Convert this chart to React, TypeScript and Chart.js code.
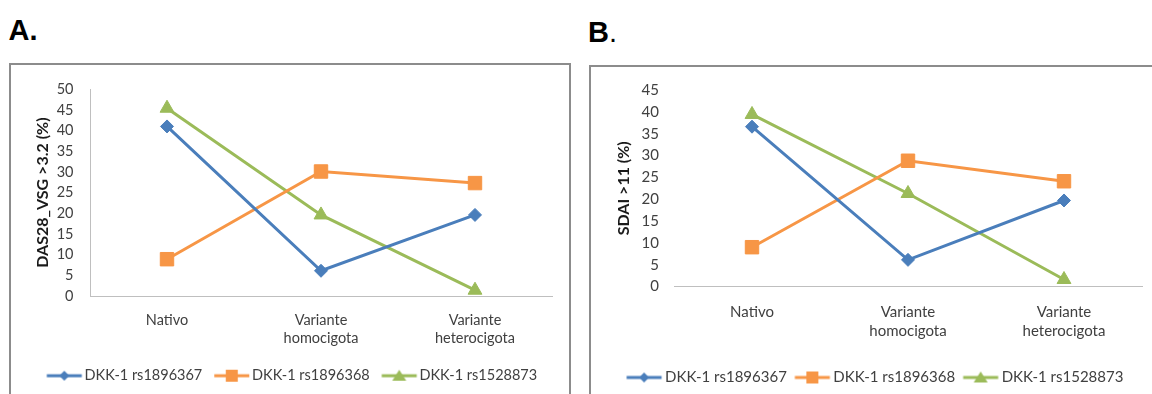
import React, { useEffect, useRef } from 'react';
import { Chart, registerables } from 'chart.js';

Chart.register(...registerables);

// ---------- data ----------
const categories: string[][] = [['Nativo'], ['Variante', 'homocigota'], ['Variante', 'heterocigota']];
const seriesNames = ['DKK-1 rs1896367', 'DKK-1 rs1896368', 'DKK-1 rs1528873'];

// Panel A: DAS28_VSG >3.2 (%)
const das28Rs1896367 = [41.0, 6.1, 19.6];
const das28Rs1896368 = [8.9, 30.1, 27.3];
const das28Rs1528873 = [45.4, 19.6, 1.4];
const das28Ticks = [0, 5, 10, 15, 20, 25, 30, 35, 40, 45, 50];

// Panel B: SDAI >11 (%)
const sdaiRs1896367 = [36.6, 6.1, 19.7];
const sdaiRs1896368 = [9.0, 28.8, 24.1];
const sdaiRs1528873 = [39.4, 21.3, 1.6];
const sdaiTicks = [0, 5, 10, 15, 20, 25, 30, 35, 40, 45];

// ---------- styles ----------
const COLORS = ['#4A7EBB', '#F79646', '#9BBB59'];
const STYLES = ['rectRot', 'rect', 'triangle'];
const RADII = [6.5, 9.5, 8];
const FONT = 'Lato, "Noto Sans", sans-serif';
const TEXT = '#404040';

function makeLegendImage(color: string, style: string, fontSize: number, boxW: number) {
  const half = fontSize / 2;
  const w = boxW + fontSize;
  const h = 22;
  const c = document.createElement('canvas');
  c.width = w;
  c.height = h;
  const ctx = c.getContext('2d')!;
  const cy = h / 2;
  ctx.strokeStyle = color;
  ctx.fillStyle = color;
  ctx.lineWidth = 3;
  ctx.beginPath();
  ctx.moveTo(half, cy);
  ctx.lineTo(half + 35, cy);
  ctx.stroke();
  const mx = half + 17.5;
  ctx.beginPath();
  if (style === 'rectRot') {
    const r = 5;
    ctx.moveTo(mx, cy - r);
    ctx.lineTo(mx + r, cy);
    ctx.lineTo(mx, cy + r);
    ctx.lineTo(mx - r, cy);
    ctx.closePath();
  } else if (style === 'rect') {
    const s = 6;
    ctx.rect(mx - s, cy - s, 2 * s, 2 * s);
  } else {
    ctx.moveTo(mx, cy - 6);
    ctx.lineTo(mx + 7, cy + 5);
    ctx.lineTo(mx - 7, cy + 5);
    ctx.closePath();
  }
  ctx.fill();
  return c;
}

type PanelCfg = {
  values: number[][];
  ticks: number[];
  title: string;
  fontSize: number;
  titleSize: number;
  boxW: number;
  legendPad: number;
  padLeft: number;
  padRight: number;
  padTop: number;
  yWidth: number;
  xHeight: number;
  yTickPad: number;
  xTickPad: number;
  titlePad: number;
  xLineHeight: number;
  showYAxisLine: boolean;
};

function buildChart(canvas: HTMLCanvasElement, p: PanelCfg) {
  const images = COLORS.map((c, i) => makeLegendImage(c, STYLES[i], p.fontSize, p.boxW));
  return new Chart(canvas, {
    type: 'line',
    data: {
      labels: categories,
      datasets: seriesNames.map((name, i) => ({
        label: name,
        data: p.values[i],
        borderColor: COLORS[i],
        backgroundColor: COLORS[i],
        borderWidth: 3,
        pointStyle: STYLES[i] as any,
        pointRadius: RADII[i],
        pointHoverRadius: RADII[i],
        pointBackgroundColor: COLORS[i],
        pointBorderColor: COLORS[i],
        pointBorderWidth: 1,
        tension: 0,
        fill: false,
      })),
    },
    options: {
      animation: false,
      responsive: false,
      maintainAspectRatio: false,
      devicePixelRatio: 1,
      layout: {
        autoPadding: false,
        padding: { left: p.padLeft, right: p.padRight, top: p.padTop, bottom: 0 },
      },
      plugins: {
        tooltip: { enabled: false },
        legend: {
          position: 'bottom',
          labels: {
            usePointStyle: true,
            pointStyleWidth: p.boxW,
            padding: p.legendPad,
            color: TEXT,
            font: { family: FONT, size: p.fontSize },
            generateLabels: (chart: any) =>
              chart.data.datasets.map((ds: any, i: number) => ({
                text: ds.label,
                pointStyle: images[i],
                fillStyle: COLORS[i],
                strokeStyle: COLORS[i],
                lineWidth: 0,
                hidden: false,
                datasetIndex: i,
                fontColor: TEXT,
              })),
          },
        },
      },
      scales: {
        x: {
          type: 'category',
          offset: true,
          grid: { display: false, drawTicks: false },
          border: { display: true, color: '#BFBFBF', width: 1 },
          ticks: {
            color: TEXT,
            padding: p.xTickPad,
            maxRotation: 0,
            autoSkip: false,
            font: { family: FONT, size: p.fontSize, lineHeight: p.xLineHeight },
          },
          afterFit: (s: any) => {
            s.height = p.xHeight;
          },
        },
        y: {
          min: p.ticks[0],
          max: p.ticks[p.ticks.length - 1],
          grid: { display: false, drawTicks: false },
          border: { display: p.showYAxisLine, color: '#BFBFBF', width: 1 },
          ticks: {
            stepSize: p.ticks[1] - p.ticks[0],
            color: TEXT,
            padding: p.yTickPad,
            font: { family: FONT, size: p.fontSize },
          },
          title: {
            display: true,
            text: p.title,
            color: '#1a1a1a',
            font: { family: FONT, size: p.titleSize, weight: 'bold', lineHeight: 1.2 },
            padding: { top: p.titlePad, bottom: 0 },
          },
          afterFit: (s: any) => {
            s.width = p.yWidth;
          },
        },
      },
    } as any,
  });
}

const panelA: PanelCfg = {
  values: [das28Rs1896367, das28Rs1896368, das28Rs1528873],
  ticks: das28Ticks,
  title: 'DAS28_VSG >3.2 (%)',
  fontSize: 14.5,
  titleSize: 16,
  boxW: 30.5,
  legendPad: 12,
  padLeft: 22,
  padRight: 18,
  padTop: 18,
  yWidth: 58,
  xHeight: 60.5,
  yTickPad: 16.5,
  xTickPad: 15.5,
  titlePad: 1.4,
  xLineHeight: 1.25,
  showYAxisLine: true,
};

const panelB: PanelCfg = {
  values: [sdaiRs1896367, sdaiRs1896368, sdaiRs1528873],
  ticks: sdaiTicks,
  title: 'SDAI >11 (%)',
  fontSize: 15,
  titleSize: 16,
  boxW: 31,
  legendPad: 8,
  padLeft: 18,
  padRight: 10,
  padTop: 21,
  yWidth: 66,
  xHeight: 75.5,
  yTickPad: 15,
  xTickPad: 16,
  titlePad: 6.4,
  xLineHeight: 1.27,
  showYAxisLine: false,
};

export default function App() {
  const refA = useRef<HTMLCanvasElement>(null);
  const refB = useRef<HTMLCanvasElement>(null);

  useEffect(() => {
    const a = buildChart(refA.current!, panelA);
    const b = buildChart(refB.current!, panelB);
    return () => {
      a.destroy();
      b.destroy();
    };
  }, []);

  return (
    <div
      style={{
        position: 'absolute',
        left: 0,
        top: 0,
        width: 1152,
        height: 394,
        overflow: 'hidden',
        background: '#fff',
      }}
    >
      <div
        style={{
          position: 'absolute',
          left: 8.5,
          top: 15.5,
          font: 'bold 29px "Liberation Sans", Arial, sans-serif',
          lineHeight: '29px',
          color: '#000',
          whiteSpace: 'nowrap',
        }}
      >
        A.
      </div>
      <div
        style={{
          position: 'absolute',
          left: 588,
          top: 18,
          font: '29px "Liberation Sans", Arial, sans-serif',
          lineHeight: '29px',
          color: '#000',
          whiteSpace: 'nowrap',
        }}
      >
        <b>B</b>.
      </div>
      <div
        style={{
          position: 'absolute',
          left: 9,
          top: 63,
          width: 558,
          height: 400,
          border: '2px solid #8C8C8C',
          boxSizing: 'content-box',
        }}
      />
      <div
        style={{
          position: 'absolute',
          left: 589,
          top: 65,
          width: 600,
          height: 400,
          border: '2px solid #8C8C8C',
        }}
      />
      <canvas ref={refA} width={560} height={329} style={{ position: 'absolute', left: 10, top: 64 }} />
      <canvas ref={refB} width={562} height={329.5} style={{ position: 'absolute', left: 590, top: 66 }} />
    </div>
  );
}
